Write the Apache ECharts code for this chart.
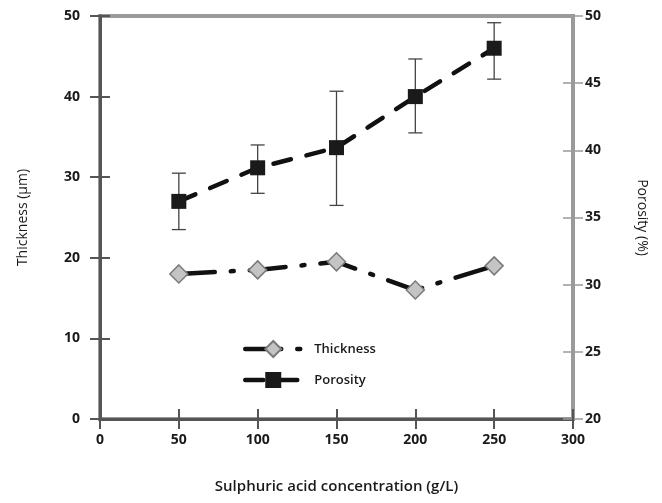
<!DOCTYPE html>
<html>
<head>
<meta charset="utf-8">
<script src="https://cdn.jsdelivr.net/npm/echarts@6/dist/echarts.min.js"></script>
<style>
  html, body { margin: 0; padding: 0; background: #fff; }
  #chart { width: 662px; height: 503px; }
</style>
</head>
<body>
<div id="chart"></div>
<script>
// sulphuric acid concentration (g/L)
const concentration = [50, 100, 150, 200, 250]
// thickness (um), left axis
const thickness = [18.0, 18.5, 19.5, 16.0, 19.0]
// porosity (%), right axis, with error bars
const porosity = [36.2, 38.7, 40.2, 44.0, 47.6]
const porosityLow = [34.1, 36.8, 35.9, 41.3, 45.3]
const porosityHigh = [38.3, 40.4, 44.4, 46.8, 49.5]

const labelFont = { color: '#1a1a1a', fontSize: 14, fontWeight: 'bold', fontFamily: 'Open Sans' }
const nameFont = { color: '#1a1a1a', fontSize: 14, fontFamily: 'Open Sans' }
const thicknessDash = [36, 16, 3, 16]
const porosityDash = [18, 16]

const chart = echarts.init(document.getElementById('chart'))

chart.setOption({
  backgroundColor: '#fff',
  animation: false,
  grid: {
    left: 100,
    right: 89,
    top: 16,
    bottom: 84,
    show: true,
    borderColor: '#9a9a9a',
    borderWidth: 4
  },
  legend: {
    orient: 'vertical',
    left: 243,
    top: 340,
    padding: 0,
    itemWidth: 56,
    itemHeight: 20,
    itemGap: 14,
    data: [
      { name: 'Thickness', lineStyle: { width: 4.5, type: thicknessDash } },
      { name: 'Porosity', lineStyle: { width: 4.5, type: porosityDash } }
    ],
    textStyle: { color: '#1a1a1a', fontSize: 13, fontFamily: 'Open Sans', fontWeight: 600, padding: [0, 0, 0, 8] }
  },
  xAxis: [
    {
      type: 'value',
      position: 'bottom',
      min: 0,
      max: 300,
      interval: 50,
      name: 'Sulphuric acid concentration (g/L)',
      nameLocation: 'middle',
      nameGap: 60,
      nameTextStyle: { color: '#1a1a1a', fontSize: 15, fontWeight: 600, fontFamily: 'Open Sans' },
      axisLine: { onZero: false, lineStyle: { color: '#555', width: 3 } },
      axisTick: { length: 10, lineStyle: { color: '#555', width: 2 } },
      axisLabel: Object.assign({ margin: 14 }, labelFont),
      splitLine: { show: false }
    },
    {
      // inner half of the crossing ticks
      type: 'value',
      position: 'bottom',
      min: 0,
      max: 300,
      interval: 50,
      axisLine: { show: true, onZero: false, lineStyle: { color: '#555', width: 3 } },
      axisTick: { show: true, inside: true, length: 10, lineStyle: { color: '#555', width: 2 } },
      axisLabel: { show: false },
      splitLine: { show: false }
    }
  ],
  yAxis: [
    {
      type: 'value',
      position: 'left',
      min: 0,
      max: 50,
      interval: 10,
      name: 'Thickness (\u00b5m)',
      nameLocation: 'middle',
      nameGap: 70,
      nameTextStyle: nameFont,
      axisLine: { show: true, onZero: false, lineStyle: { color: '#555', width: 3 } },
      axisTick: { show: true, length: 10, lineStyle: { color: '#555', width: 2 } },
      axisLabel: Object.assign({ margin: 20 }, labelFont),
      splitLine: { show: false }
    },
    {
      type: 'value',
      position: 'right',
      min: 20,
      max: 50,
      interval: 5,
      name: 'Porosity (%)',
      nameLocation: 'middle',
      nameRotate: -90,
      nameGap: 62,
      nameTextStyle: nameFont,
      axisLine: { show: true, onZero: false, lineStyle: { color: '#9a9a9a', width: 4 } },
      axisTick: { show: true, length: 10, lineStyle: { color: '#9a9a9a', width: 1.5 } },
      axisLabel: Object.assign({ margin: 12 }, labelFont),
      splitLine: { show: false }
    },
    {
      type: 'value',
      position: 'left',
      min: 0,
      max: 50,
      interval: 10,
      axisLine: { show: true, onZero: false, lineStyle: { color: '#555', width: 3 } },
      axisTick: { show: true, inside: true, length: 10, lineStyle: { color: '#555', width: 2 } },
      axisLabel: { show: false },
      splitLine: { show: false }
    },
    {
      type: 'value',
      position: 'right',
      min: 20,
      max: 50,
      interval: 5,
      axisLine: { show: true, onZero: false, lineStyle: { color: '#9a9a9a', width: 4 } },
      axisTick: { show: true, inside: true, length: 10, lineStyle: { color: '#9a9a9a', width: 1.5 } },
      axisLabel: { show: false },
      splitLine: { show: false }
    }
  ],
  series: [
    {
      name: 'errors',
      type: 'custom',
      xAxisIndex: 0,
      yAxisIndex: 1,
      z: 1,
      encode: { x: 0, y: [1, 2] },
      data: concentration.map((c, i) => [c, porosityLow[i], porosityHigh[i]]),
      renderItem(params, api) {
        const lo = api.coord([api.value(0), api.value(1)])
        const hi = api.coord([api.value(0), api.value(2)])
        const w = 7
        const style = { stroke: '#444', lineWidth: 1.3 }
        return {
          type: 'group',
          children: [
            { type: 'line', shape: { x1: lo[0], y1: lo[1], x2: hi[0], y2: hi[1] }, style },
            { type: 'line', shape: { x1: hi[0] - w, y1: hi[1], x2: hi[0] + w, y2: hi[1] }, style },
            { type: 'line', shape: { x1: lo[0] - w, y1: lo[1], x2: lo[0] + w, y2: lo[1] }, style }
          ]
        }
      }
    },
    {
      name: 'Thickness',
      type: 'line',
      xAxisIndex: 0,
      yAxisIndex: 0,
      z: 3,
      data: concentration.map((c, i) => [c, thickness[i]]),
      symbol: 'diamond',
      symbolSize: 18,
      itemStyle: { color: '#c4c4c4', borderColor: '#7a7a7a', borderWidth: 1.5 },
      lineStyle: { color: '#111', width: 4.5, type: thicknessDash, cap: 'round' }
    },
    {
      name: 'Porosity',
      type: 'line',
      xAxisIndex: 0,
      yAxisIndex: 1,
      z: 3,
      data: concentration.map((c, i) => [c, porosity[i]]),
      symbol: 'rect',
      symbolSize: 15,
      itemStyle: { color: '#1a1a1a', borderColor: '#1a1a1a', borderWidth: 0 },
      lineStyle: { color: '#111', width: 4.5, type: porosityDash, cap: 'round' }
    }
  ]
})
</script>
</body>
</html>
